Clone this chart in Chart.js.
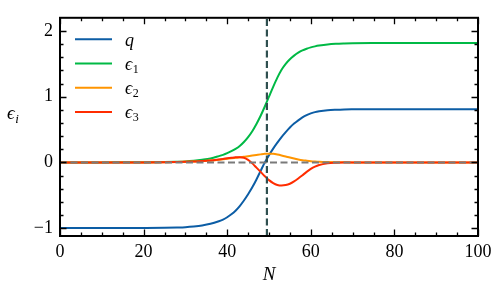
<!DOCTYPE html>
<html><head><meta charset="utf-8">
<script src="https://cdn.jsdelivr.net/npm/chart.js@4/dist/chart.umd.min.js"></script>
<style>html,body{margin:0;padding:0;background:#fff;}#wrap{width:499px;height:291px;position:relative;}canvas{display:block;}</style>
</head><body><div id="wrap"><canvas id="c" width="499" height="291"></canvas></div>
<script>
// ---- data ----
const Nvals = [0,5,10,15,20,25,28,30,32,34,36,38,39,40,41,42,43,44,45,46,47,48,49,50,51,52,53,54,55,56,57,58,59,60,61,62,64,66,68,70,75,80,85,90,95,100];
const qVals = [-1.0,-1.0,-1.0,-0.999,-0.998,-0.995,-0.99,-0.985,-0.975,-0.96,-0.935,-0.895,-0.87,-0.835,-0.79,-0.735,-0.665,-0.58,-0.485,-0.38,-0.26,-0.13,0.0,0.11,0.21,0.30,0.385,0.46,0.53,0.59,0.64,0.685,0.72,0.745,0.765,0.777,0.793,0.801,0.806,0.808,0.81,0.81,0.81,0.81,0.81,0.81];
const eps1Vals = [0,0,0,0.001,0.002,0.005,0.01,0.015,0.025,0.04,0.06,0.095,0.115,0.14,0.17,0.205,0.25,0.31,0.385,0.475,0.585,0.71,0.85,1.0,1.15,1.29,1.41,1.50,1.57,1.625,1.67,1.705,1.73,1.75,1.765,1.777,1.795,1.805,1.81,1.813,1.815,1.815,1.815,1.815,1.815,1.815];
const eps2Vals = [0,0,0,0,0,0.002,0.005,0.008,0.012,0.018,0.027,0.04,0.047,0.055,0.063,0.07,0.077,0.085,0.095,0.104,0.113,0.122,0.13,0.133,0.13,0.12,0.106,0.09,0.073,0.058,0.045,0.034,0.026,0.019,0.014,0.01,0.005,0.002,0.001,0,0,0,0,0,0,0];
const eps3Vals = [0,0,0,0,0,0.002,0.005,0.009,0.014,0.02,0.03,0.045,0.053,0.062,0.07,0.077,0.08,0.07,0.038,-0.015,-0.08,-0.145,-0.21,-0.27,-0.315,-0.343,-0.352,-0.345,-0.325,-0.29,-0.245,-0.195,-0.145,-0.1,-0.065,-0.04,-0.015,-0.006,-0.002,0,0,0,0,0,0,0];
const seriesNames = [['q',''],['ϵ','1'],['ϵ','2'],['ϵ','3']];
const xTickVals = [0,20,40,60,80,100];
const yTickVals = [-1,0,1,2];
const vLineX = 49.5;
const hLineY = 0;
const xRange = [0,100];
const yRange = [-1.12,2.2];

const colors = ['#0C5DA5','#00B945','#FF9500','#FF2C00'];
const serif = "'Liberation Serif','DejaVu Serif',serif";
const series = [qVals, eps1Vals, eps2Vals, eps3Vals];

const datasets = series.map((vals,i)=>({
  label: seriesNames[i].join(''),
  data: Nvals.map((x,k)=>({x:x,y:vals[k]})),
  borderColor: colors[i], borderWidth: 2, pointRadius: 0,
  cubicInterpolationMode: 'monotone', fill:false,
  order: 5 - i
}));
datasets.push({label:'h', data:[{x:xRange[0],y:hLineY},{x:xRange[1],y:hLineY}], borderColor:'#7a7a7a', borderWidth:2, borderDash:[7,3.5], pointRadius:0, tension:0, order:1});
datasets.push({label:'v', data:[{x:vLineX,y:yRange[0]},{x:vLineX,y:yRange[1]}], borderColor:'#2F4F4F', borderWidth:2.2, borderDash:[7,3.5], pointRadius:0, tension:0, order:0});

const fmt = v => (v<0 ? '\u2212'+Math.abs(v) : String(v));

const deco = {
  id:'deco',
  afterDraw(chart){
    const ctx = chart.ctx, a = chart.chartArea, xs = chart.scales.x, ys = chart.scales.y;
    ctx.save();
    // ticks
    ctx.strokeStyle = '#000'; ctx.lineWidth = 1.3;
    for (let v = xRange[0]; v <= xRange[1]; v += 5) {
      const major = v % 20 === 0, L = major ? 6.5 : 3.5, p = Math.round(xs.getPixelForValue(v)) + 0.5;
      ctx.beginPath(); ctx.moveTo(p, a.bottom); ctx.lineTo(p, a.bottom - L);
      ctx.moveTo(p, a.top); ctx.lineTo(p, a.top + L); ctx.stroke();
    }
    for (let k = -5; k <= 10; k++) {
      const v = k * 0.2, major = k % 5 === 0, L = major ? 6.5 : 3.5, p = Math.round(ys.getPixelForValue(v)) + 0.5;
      ctx.beginPath(); ctx.moveTo(a.left, p); ctx.lineTo(a.left + L, p);
      ctx.moveTo(a.right, p); ctx.lineTo(a.right - L, p); ctx.stroke();
    }
    // frame
    ctx.lineWidth = 2;
    ctx.strokeRect(a.left, a.top, a.right - a.left, a.bottom - a.top);
    // legend
    seriesNames.forEach((nm, i) => {
      const y = a.top + 21.5 + i * 24.2;
      ctx.strokeStyle = colors[i]; ctx.lineWidth = 2;
      ctx.beginPath(); ctx.moveTo(a.left + 15, y); ctx.lineTo(a.left + 52, y); ctx.stroke();
      ctx.fillStyle = '#000'; ctx.textBaseline = 'alphabetic'; ctx.textAlign = 'left';
      ctx.font = 'italic 18px ' + serif;
      const tx = a.left + 65;
      ctx.fillText(nm[0], tx, y + 6.5);
      if (nm[1]) {
        const w = ctx.measureText(nm[0]).width;
        ctx.font = '12px ' + serif;
        ctx.fillText(nm[1], tx + w + 0.5, y + 9.5);
      }
    });
    // axis titles
    ctx.fillStyle = '#000';
    ctx.font = 'italic 19px ' + serif; ctx.textAlign = 'center';
    ctx.fillText('N', (a.left + a.right) / 2, 280);
    ctx.textAlign = 'left';
    ctx.fillText('ϵ', 7, 119);
    const w2 = ctx.measureText('ϵ').width;
    ctx.font = 'italic 13px ' + serif;
    ctx.fillText('i', 7 + w2 + 0.5, 122.5);
    ctx.restore();
  }
};

new Chart(document.getElementById('c'), {
  type: 'line',
  data: { datasets },
  options: {
    responsive: false, animation: false, devicePixelRatio: 1,
    layout: { padding: { left: 0, right: 21, top: 7, bottom: 0 } },
    plugins: { legend: { display: false }, tooltip: { enabled: false } },
    scales: {
      x: {
        type: 'linear', min: xRange[0], max: xRange[1],
        afterBuildTicks: s => { s.ticks = xTickVals.map(v => ({ value: v })); },
        afterFit: s => { s.height = 55; },
        ticks: { font: { family: serif, size: 18 }, color: '#000', padding: 5, maxRotation: 0, autoSkip: false, callback: v => fmt(v) },
        grid: { display: false, drawTicks: false }, border: { display: false }
      },
      y: {
        type: 'linear', min: yRange[0], max: yRange[1],
        afterBuildTicks: s => { s.ticks = yTickVals.map(v => ({ value: v })); },
        afterFit: s => { s.width = 60; },
        ticks: { font: { family: serif, size: 18 }, color: '#000', padding: 7, autoSkip: false, callback: v => fmt(v) },
        grid: { display: false, drawTicks: false }, border: { display: false }
      }
    }
  },
  plugins: [deco]
});
</script>
</body></html>
